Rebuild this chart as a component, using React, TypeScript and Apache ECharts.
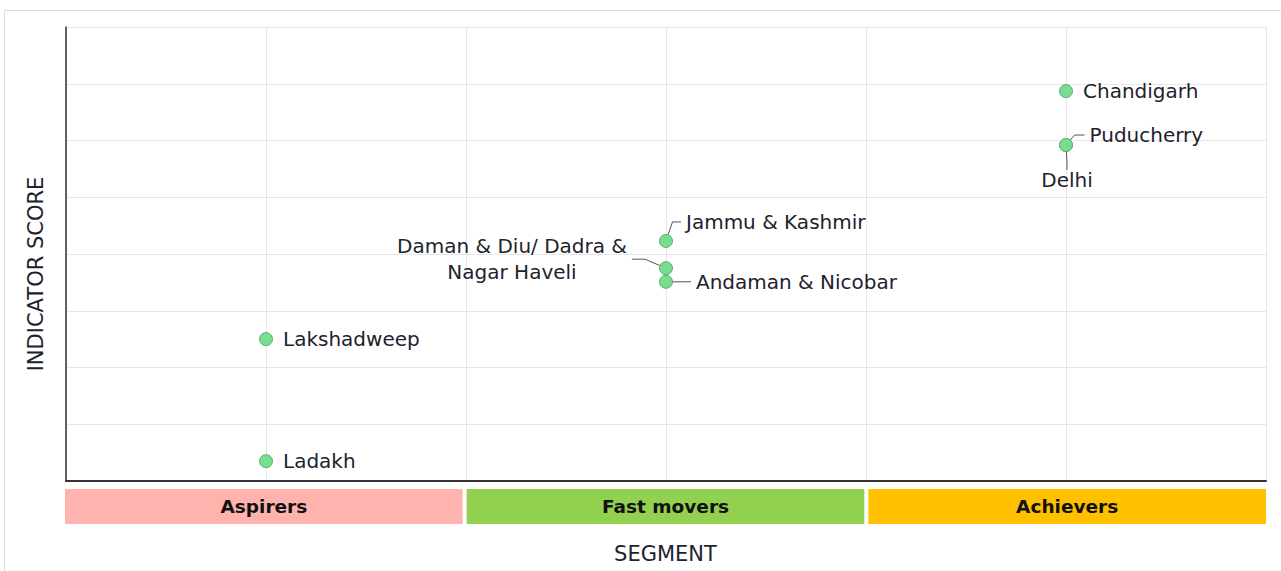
import React, { useEffect, useRef } from "react";
import * as echarts from "echarts";

// ---- Data ----
const segments = ["Aspirers", "Fast movers", "Achievers"];
const segmentColors = ["#FFB3AF", "#92D050", "#FFC000"];

const states = [
  "Ladakh",
  "Lakshadweep",
  "Jammu & Kashmir",
  "Daman & Diu/ Dadra &\nNagar Haveli",
  "Andaman & Nicobar",
  "Chandigarh",
  "Puducherry",
  "Delhi",
];
const stateSegments = [
  "Aspirers",
  "Aspirers",
  "Fast movers",
  "Fast movers",
  "Fast movers",
  "Achievers",
  "Achievers",
  "Achievers",
];
const indicatorScores = [3.5, 25.0, 42.3, 37.5, 35.1, 68.7, 59.2, 59.2];

// ---- Label placement (styling only) ----
const GAP = { padding: [0, 5], backgroundColor: "rgba(255,255,255,0)" };
const labelPlacement: Record<string, any> = {
  Ladakh: { label: { position: "right", distance: 10 } },
  Lakshadweep: { label: { position: "right", distance: 10 } },
  Chandigarh: { label: { position: "right", distance: 10 } },
  "Jammu & Kashmir": {
    label: { position: "right", distance: 10, ...GAP },
    move: [-2, -19],
    line: 8.5,
  },
  "Daman & Diu/ Dadra &\nNagar Haveli": {
    label: { position: "left", distance: 147, align: "center", lineHeight: 26, ...GAP },
    move: [0, -9],
    line: 13,
  },
  "Andaman & Nicobar": {
    label: { position: "right", distance: 10, ...GAP },
    move: [8, 0],
    line: 8,
  },
  Puducherry: {
    label: { position: "right", distance: 10, ...GAP },
    move: [1.5, -10],
    line: 10,
  },
  Delhi: {
    label: { position: "bottom", distance: 18 },
    move: [1, 0],
    line: 8,
  },
};

const FONT = "DejaVu Sans";
const TEXT = "#22222c";

export default function App() {
  const ref = useRef<HTMLDivElement>(null);

  useEffect(() => {
    document.body.style.margin = "0";
    if (!ref.current) return;
    const chart = echarts.init(ref.current, undefined, { renderer: "svg" });

    const scatterData = states.map((name, i) => {
      const p = labelPlacement[name] || {};
      const item: any = {
        name,
        value: [segments.indexOf(stateSegments[i]) + 0.5, indicatorScores[i]],
        label: { ...(p.label || {}) },
      };
      if (p.line != null) {
        item.labelLine = {
          show: true,
          length2: p.line,
          lineStyle: { color: "#555", width: 1 },
        };
      }
      return item;
    });

    chart.setOption({
      animation: false,
      textStyle: { fontFamily: FONT },
      graphic: [
        {
          type: "rect",
          z: -10,
          shape: { x: 4.5, y: 10.5, width: 1400, height: 700 },
          style: { fill: "none", stroke: "#dcdcdc", lineWidth: 1 },
        },
        {
          type: "text",
          x: 36,
          y: 274,
          rotation: Math.PI / 2,
          style: {
            text: "INDICATOR SCORE",
            fontFamily: FONT,
            fontSize: 21,
            fill: TEXT,
            align: "center",
            verticalAlign: "middle",
          },
        },
      ],
      grid: [
        { left: 66, top: 27, width: 1200, height: 454 },
        { left: 63, top: 487, width: 1205, height: 39 },
      ],
      xAxis: [
        {
          gridIndex: 0,
          type: "value",
          min: 0,
          max: 3,
          interval: 0.5,
          axisLabel: { show: false },
          axisTick: { show: false },
          axisLine: { show: true, lineStyle: { color: "#333", width: 2 } },
          splitLine: { show: true, lineStyle: { color: "#e6e6e6", width: 1 } },
        },
        {
          gridIndex: 1,
          type: "category",
          data: segments,
          axisLabel: { show: false },
          axisTick: { show: false },
          axisLine: { show: false },
          splitLine: { show: false },
          name: "SEGMENT",
          nameLocation: "middle",
          nameGap: 17,
          nameTextStyle: { fontFamily: FONT, fontSize: 21, color: TEXT },
        },
      ],
      yAxis: [
        {
          gridIndex: 0,
          type: "value",
          min: 0,
          max: 80,
          interval: 10,
          axisLabel: { show: false },
          axisTick: { show: false },
          axisLine: { show: true, lineStyle: { color: "#333", width: 1.5 } },
          splitLine: { show: true, lineStyle: { color: "#e6e6e6", width: 1 } },
        },
        {
          gridIndex: 1,
          type: "value",
          min: 0,
          max: 1,
          show: false,
        },
      ],
      series: [
        {
          type: "bar",
          xAxisIndex: 1,
          yAxisIndex: 1,
          barWidth: "100%",
          data: segments.map((s, i) => ({
            name: s,
            value: 1,
            itemStyle: { color: segmentColors[i] },
          })),
          itemStyle: { borderColor: "#ffffff", borderWidth: 2 },
          label: {
            show: true,
            position: "inside",
            formatter: "{b}",
            fontFamily: FONT,
            fontSize: 18.5,
            fontWeight: "bold",
            color: "#111",
          },
          silent: true,
        },
        {
          type: "scatter",
          xAxisIndex: 0,
          yAxisIndex: 0,
          symbolSize: 13,
          itemStyle: { color: "#7bdb92", borderColor: "#4cb965", borderWidth: 1, opacity: 1 },
          label: {
            show: true,
            formatter: "{b}",
            fontFamily: FONT,
            fontSize: 20,
            color: TEXT,
          },
          labelLayout: (params: any) => {
            const p = labelPlacement[states[params.dataIndex]];
            if (p && p.move) return { dx: p.move[0], dy: p.move[1] };
            return {};
          },
          data: scatterData,
        },
      ],
    });

    return () => chart.dispose();
  }, []);

  return <div ref={ref} style={{ width: 1281, height: 571 }} />;
}
